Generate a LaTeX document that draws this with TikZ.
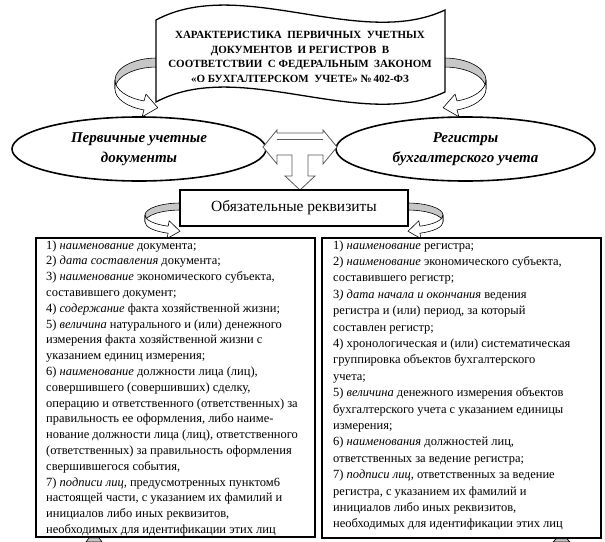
\documentclass[tikz,border=0pt]{standalone}
\usepackage{fontspec}
\setmainfont{Liberation Serif}
\usetikzlibrary{shapes.geometric}
\tikzset{
 ribback/.style={fill=black!22},
 ribline/.style={draw=black, line width=0.6pt, line join=round},
 ribfront/.style={fill=white, draw=black, line width=0.6pt, line join=round},
 ell/.style={ellipse, draw=black, line width=1.6pt, fill=white, inner sep=0pt, font=\bfseries\itshape\fontsize{15}{20}\selectfont, align=center},
 reqbox/.style={rectangle, draw=black, line width=1.8pt, fill=white, minimum width=228pt, minimum height=36pt, font=\fontsize{15.5}{17}\selectfont},
 listbox/.style={rectangle, draw=black, line width=1.5pt, fill=white, inner sep=0pt},
 listtext/.style={inner sep=0pt, font=\fontsize{12.5}{15.8}\selectfont},
 listtextr/.style={inner sep=0pt, font=\fontsize{12.5}{16.4}\selectfont},
 tarrow/.style={draw=black!65, line width=0.8pt, fill=white, line join=miter},
 bannerbox/.style={draw=black, line width=1.3pt, fill=white},
 titletext/.style={font=\bfseries\fontsize{11}{14.6}\selectfont, align=center, inner sep=0pt},
}
% banner ribbon (rx=42, ry=22, h=9)
\newcommand\bannerrib{%
 \fill[ribback] (0,22) arc[start angle=90,end angle=180,x radius=42,y radius=22] -- (-42,-9) arc[start angle=180,end angle=90,x radius=42,y radius=22] -- cycle;
 \draw[ribline] (0,22) arc[start angle=90,end angle=180,x radius=42,y radius=22] -- (-42,-9) arc[start angle=180,end angle=90,x radius=42,y radius=22];
 \filldraw[ribfront] (-42,0) arc[start angle=180,end angle=252,x radius=42,y radius=22] -- (-11.05,-14.08) -- (0.82,-27.77) -- (-14.91,-36.76) -- (-12.98,-29.92) arc[start angle=252,end angle=180,x radius=42,y radius=22] -- cycle;
}
% box ribbon (rx=36, ry=12, h=7)
\newcommand\boxrib{%
 \fill[ribback] (0,12) arc[start angle=90,end angle=180,x radius=36,y radius=12] -- (-36,-7) arc[start angle=180,end angle=90,x radius=36,y radius=12] -- cycle;
 \draw[ribline] (0,12) arc[start angle=90,end angle=180,x radius=36,y radius=12] -- (-36,-7) arc[start angle=180,end angle=90,x radius=36,y radius=12];
 \filldraw[ribfront] (-36,0) arc[start angle=180,end angle=249,x radius=36,y radius=12] -- (-11.76,-5.78) -- (-1.01,-16.22) -- (-14.04,-23.62) -- (-12.90,-18.20) arc[start angle=249,end angle=180,x radius=36,y radius=12] -- cycle;
}
\begin{document}
\begin{tikzpicture}[x=1pt,y=1pt]
\useasboundingbox (0,0) rectangle (605,-541);
\fill[white] (0,0) rectangle (605,-541);

% curved arrows at the banner
\begin{scope}[shift={(157,-80)}]\bannerrib\end{scope}
\begin{scope}[shift={(444,-80)}, xscale=-1]\bannerrib\end{scope}

% banner
\draw[bannerbox] (156,-20) .. controls (240,25) and (360,-50) .. (445,-10) -- (445,-92) .. controls (360,-132) and (240,-57) .. (156,-102) -- cycle;
\node[titletext] (title) at (300,-57) {ХАРАКТЕРИСТИКА\ \ ПЕРВИЧНЫХ\ \ УЧЕТНЫХ\\ДОКУМЕНТОВ\ \ И РЕГИСТРОВ\ \ В\\СООТВЕТСТВИИ\ \ С ФЕДЕРАЛЬНЫМ\ \ ЗАКОНОМ\\«О БУХГАЛТЕРСКОМ\ \ УЧЕТЕ» №\,402-ФЗ};

% ellipses
\node[ell, minimum width=254pt, minimum height=64pt] (pd) at (139,-149) {Первичные учетные\\документы};
\node[ell, minimum width=259pt, minimum height=64pt] (rb) at (465.5,-149) {Регистры\\бухгалтерского учета};

% three-way block arrow
\draw[tarrow] (263,-147) -- (277,-130) -- (277,-133) -- (323,-133) -- (323,-130) -- (337,-147) -- (323,-164) -- (323,-155) -- (308,-155) -- (308,-176) -- (315,-176) -- (300,-190) -- (285,-176) -- (292,-176) -- (292,-155) -- (277,-155) -- (277,-164) -- cycle;
\draw[tarrow] (277,-139) -- (323,-139);

% curved arrows at the requisites box
\begin{scope}[shift={(181,-215)}]\boxrib\end{scope}
\begin{scope}[shift={(407,-215)}, xscale=-1]\boxrib\end{scope}

\node[reqbox] (req) at (294,-208) {Обязательные реквизиты};

% list boxes
\node[listbox, minimum width=279pt, minimum height=299pt] (lbox) at (175.5,-387.5) {};
\node[listbox, minimum width=279pt, minimum height=300pt] (rbox) at (461.5,-388) {};

% small ribbon ends at the bottom edge
\filldraw[ribback, draw=black, line width=0.6pt] (86,-542) -- (89,-537.8) -- (99,-537.8) -- (102,-542) -- cycle;
\filldraw[ribback, draw=black, line width=0.6pt] (553,-542) -- (556,-538.8) -- (567,-538.8) -- (570,-542) -- cycle;

\begin{scope}
\clip (37.5,-239.5) rectangle (313.5,-535.5);
\node[listtext, anchor=base west] (ltext) at (46,-249) {\begin{tabular}[t]{@{}l@{}}
1) \emph{наименование} документа;\\
2) \emph{дата составления} документа;\\
3) \emph{наименование} экономического субъекта,\\
составившего документ;\\
4) \emph{содержание} факта хозяйственной жизни;\\
5) \emph{величина} натурального и (или) денежного\\
измерения факта хозяйственной жизни с\\
указанием единиц измерения;\\
6) \emph{наименование} должности лица (лиц),\\
совершившего (совершивших) сделку,\\
операцию и ответственного (ответственных) за\\
правильность ее оформления, либо наиме-\\
нование должности лица (лиц), ответственного\\
(ответственных) за правильность оформления\\
свершившегося события,\\
7) \emph{подписи лиц,} предусмотренных пунктом6\\
настоящей части, с указанием их фамилий и\\
инициалов либо иных реквизитов,\\
необходимых для идентификации этих лиц
\end{tabular}};
\end{scope}

\node[listtextr, anchor=base west] (rtext) at (333,-249) {\begin{tabular}[t]{@{}l@{}}
1) \emph{наименование} регистра;\\
2) \emph{наименование} экономического субъекта,\\
составившего регистр;\\
3\emph{) дата начала и окончания} ведения\\
регистра и (или) период, за который\\
составлен регистр;\\
4) хронологическая и (или) систематическая\\
группировка объектов бухгалтерского\\
учета;\\
5) \emph{величина} денежного измерения объектов\\
бухгалтерского учета с указанием единицы\\
измерения;\\
6) \emph{наименования} должностей лиц,\\
ответственных за ведение регистра;\\
7) \emph{подписи лиц}, ответственных за ведение\\
регистра, с указанием их фамилий и\\
инициалов либо иных реквизитов,\\
необходимых для идентификации этих лиц
\end{tabular}};
\end{tikzpicture}
\end{document}
